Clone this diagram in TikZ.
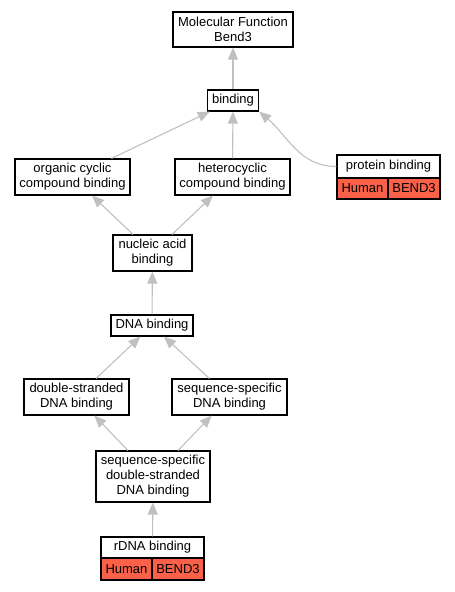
\documentclass[tikz,border=0pt]{standalone}
\usepackage{fontspec}
\setmainfont{Liberation Sans}
\usetikzlibrary{arrows.meta}
\definecolor{hitred}{RGB}{250,97,72}
\definecolor{edgegray}{RGB}{192,192,192}
\begin{document}
\begin{tikzpicture}[x=1pt, y=-1pt,
    term/.style={draw, line width=1.1pt, fill=white, align=center, inner sep=0pt,
      font=\fontsize{13}{15}\selectfont},
    cell/.style={term, fill=hitred, minimum height=21},
    isa/.style={draw=edgegray, line width=1.1pt,
      -{Triangle[length=12pt, width=10pt, fill=edgegray]}}]
  % GO terms are boxes, an edge points from a term to its parent term.
  \useasboundingbox (0,0) rectangle (455,592);
  \node[term, minimum width=120, minimum height=35] (mf) at (233,29.5) {Molecular Function\\Bend3};
  \node[term, minimum width=51, minimum height=21] (bind) at (233,100.5) {binding};
  \node[term, minimum width=115, minimum height=36] (occ) at (72.5,177) {organic cyclic\\compound binding};
  \node[term, minimum width=115, minimum height=36] (hcc) at (232.5,177) {heterocyclic\\compound binding};
  \node[term, minimum width=103, minimum height=23] (prot) at (388.5,166.5) {protein binding};
  \node[cell, minimum width=51] (protsp) at (362.5,188.5) {Human};
  \node[cell, minimum width=52] (protgn) at (414,188.5) {BEND3};
  \node[term, minimum width=79, minimum height=36] (nab) at (152.5,253) {nucleic acid\\binding};
  \node[term, minimum width=82, minimum height=21] (dna) at (152,325.5) {DNA binding};
  \node[term, minimum width=105, minimum height=36] (ds) at (76.5,397) {double-stranded\\DNA binding};
  \node[term, minimum width=115, minimum height=36] (ss) at (229.5,397) {sequence-specific\\DNA binding};
  \node[term, minimum width=114, minimum height=51] (ssds) at (153,476.5) {sequence-specific\\double-stranded\\DNA binding};
  \node[term, minimum width=103, minimum height=21] (rdna) at (152.5,547.5) {rDNA binding};
  \node[cell, minimum width=51, minimum height=22] (rdnasp) at (126.5,569) {Human};
  \node[cell, minimum width=52, minimum height=22] (rdnagn) at (178,569) {BEND3};
  \draw[isa] (bind) -- (mf);
  \draw[isa] (occ) -- (bind);
  \draw[isa] (hcc) -- (bind);
  \draw[isa] (prot.west) to[out=180, in=-40] (bind.south east);
  \draw[isa] (nab) -- (occ);
  \draw[isa] (nab) -- (hcc);
  \draw[isa] (dna) -- (nab);
  \draw[isa] (ds) -- (dna);
  \draw[isa] (ss) -- (dna);
  \draw[isa] (ssds) -- (ds);
  \draw[isa] (ssds) -- (ss);
  \draw[isa] (rdna) -- (ssds);
\end{tikzpicture}
\end{document}
